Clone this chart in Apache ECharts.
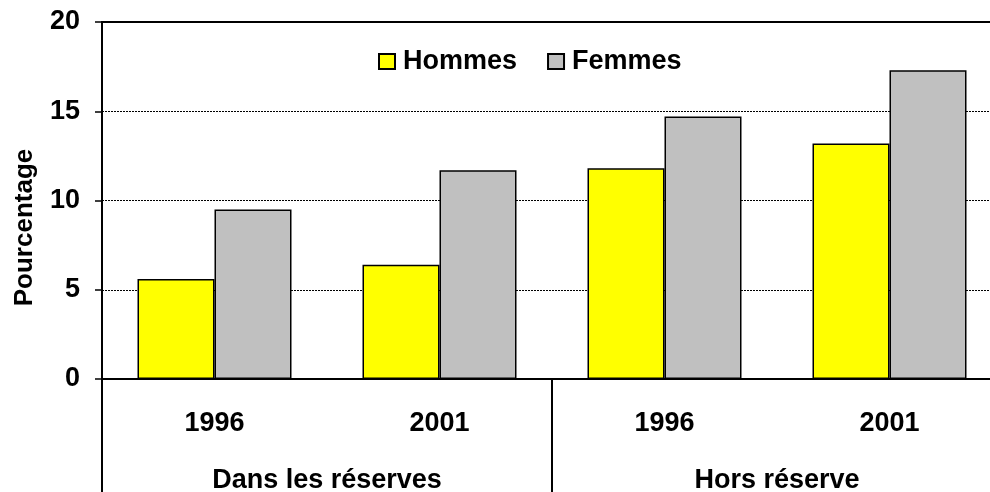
<!DOCTYPE html>
<html>
<head>
<meta charset="utf-8">
<script src="https://cdn.jsdelivr.net/npm/echarts@6/dist/echarts.min.js"></script>
<style>
  html, body { margin: 0; padding: 0; background: #fff; }
  #chart { width: 990px; height: 492px; }
</style>
</head>
<body>
<div id="chart"></div>
<script>
// data
const years = ['1996', '2001', '1996', '2001']
const groups = ['Dans les réserves', 'Hors réserve']
const hommes = [5.6, 6.4, 11.8, 13.2]
const femmes = [9.5, 11.7, 14.7, 17.3]
const yTicks = { min: 0, max: 20, interval: 5 }

const font = 'Liberation Sans, Arial, sans-serif'
const txt = { color: '#000', fontFamily: font, fontWeight: 'bold', fontSize: 27 }

const chart = echarts.init(document.getElementById('chart'))
const option = {
  backgroundColor: '#fff',
  animation: false,
  legend: {
    left: 378,
    top: 48,
    padding: 0,
    itemWidth: 16,
    itemHeight: 15,
    itemGap: 30,
    icon: 'rect',
    textStyle: Object.assign({ padding: [0, 0, 0, 3] }, txt),
    data: ['Hommes', 'Femmes']
  },
  // plot runs a little past the right edge, as in the source picture
  grid: {
    left: 102,
    top: 22,
    width: 900,
    height: 357,
    outerBoundsMode: 'none',
    containLabel: false,
    show: true,
    borderColor: '#000',
    borderWidth: 2
  },
  xAxis: [
    {
      type: 'category',
      position: 'bottom',
      data: years,
      axisLine: { lineStyle: { color: '#000', width: 2 } },
      axisTick: { show: false },
      axisLabel: Object.assign({ margin: 31, interval: 0 }, txt)
    },
    {
      type: 'category',
      position: 'bottom',
      data: groups,
      axisLine: { show: false },
      axisTick: { show: true, length: 113, lineStyle: { color: '#000', width: 2 } },
      axisLabel: Object.assign({ margin: 88, interval: 0 }, txt)
    }
  ],
  yAxis: {
    type: 'value',
    min: yTicks.min,
    max: yTicks.max,
    interval: yTicks.interval,
    name: 'Pourcentage',
    nameLocation: 'middle',
    nameGap: 64,
    nameTextStyle: Object.assign({ padding: [0, 54, 0, 0] }, txt, { fontSize: 26 }),
    axisLine: { show: true, lineStyle: { color: '#000', width: 2 } },
    axisTick: { show: true, length: 7, lineStyle: { color: '#000', width: 1.5 } },
    axisLabel: Object.assign({ margin: 22 }, txt),
    splitLine: { show: true, lineStyle: { color: '#000', width: 1, type: [2, 1] } }
  },
  series: [
    {
      name: 'Hommes',
      type: 'bar',
      data: hommes,
      barWidth: 77,
      barGap: '0%',
      itemStyle: { color: '#ffff00', borderColor: '#000', borderWidth: 1.5 }
    },
    {
      name: 'Femmes',
      type: 'bar',
      data: femmes,
      barWidth: 77,
      barGap: '0%',
      itemStyle: { color: '#c0c0c0', borderColor: '#000', borderWidth: 1.5 }
    }
  ]
}
chart.setOption(option)
</script>
</body>
</html>
